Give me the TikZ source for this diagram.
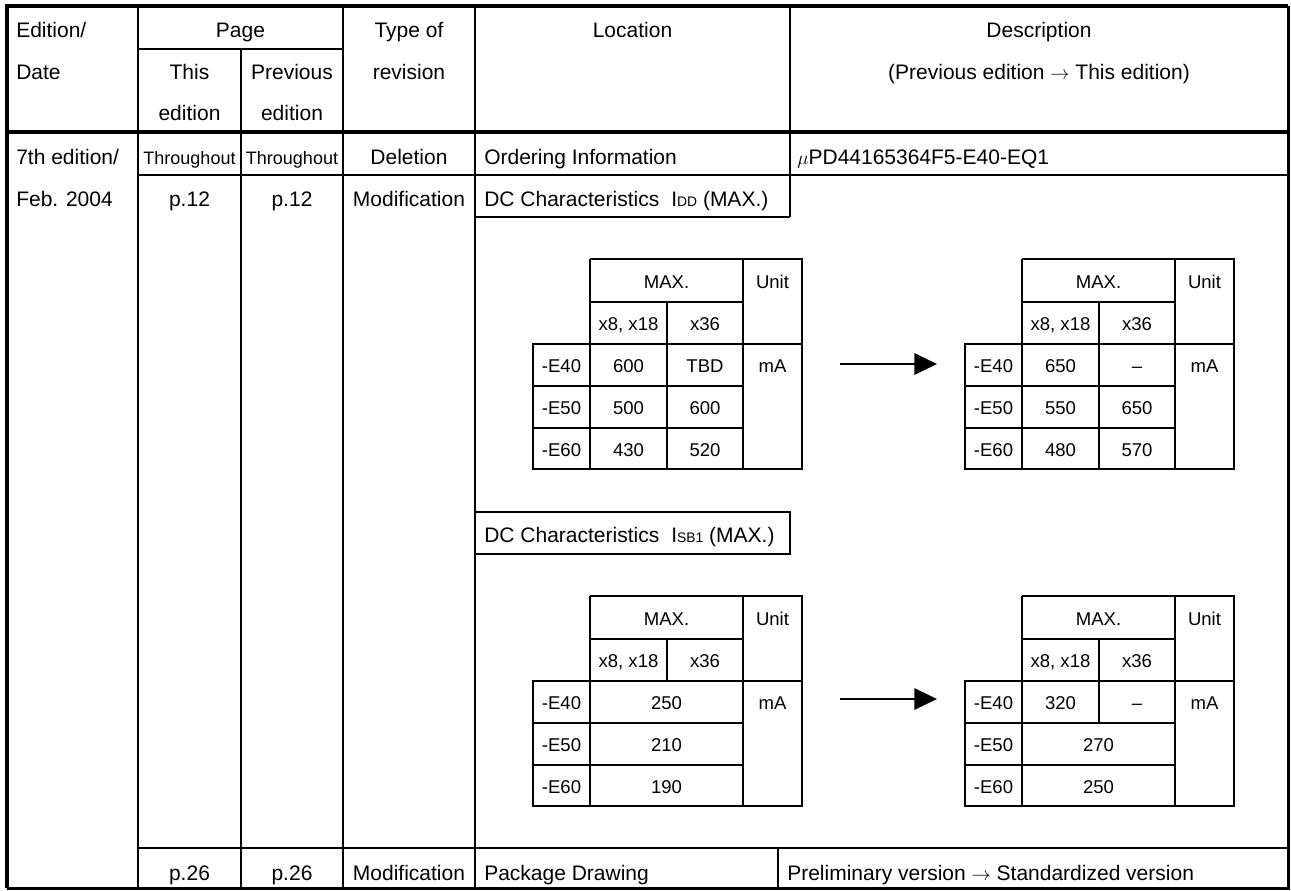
\documentclass[tikz,border=0pt]{standalone}
\usepackage{fontspec}
\setmainfont{Liberation Sans}
\usetikzlibrary{arrows.meta}

\begin{document}
\begin{tikzpicture}[x=0.75pt,y=-0.75pt,
    rule/.style={line width=1.6pt},
    heavy/.style={line width=3pt},
    txt/.style={inner sep=0pt,anchor=base,font=\fontsize{15.75}{18}\selectfont},
    ltxt/.style={txt,anchor=base west},
    thru/.style={txt,font=\fontsize{13.5}{16}\selectfont},
    cell/.style={txt,font=\fontsize{13.9}{16}\selectfont},
    chg/.style={line width=1.6pt,-{Triangle[length=17pt,width=16pt]}}]
    \useasboundingbox (0,0) rectangle (1291,890);

    % Outer frame
    \draw[heavy] (7,888) -- (7,6) -- (1288,6);
    \draw[line width=2.25pt] (1288,6) -- (1288,888) -- (7,888);

    % Column rules
    \draw[rule] (138,6) -- (138,888);
    \draw[rule] (241,49) -- (241,888);
    \draw[rule] (343,6) -- (343,888);
    \draw[rule] (475,6) -- (475,888);
    \draw[rule] (790,6) -- (790,217);
    \draw[rule] (778,848) -- (778,888);

    % Row rules
    \draw[rule] (138,49) -- (343,49);
    \draw[heavy] (7,132) -- (1288,132);
    \draw[rule] (138,175) -- (1288,175);
    \draw[rule] (475,217) -- (790,217);
    \draw[rule] (475,512) -- (790,512) -- (790,554) -- (475,554);
    \draw[rule] (138,848) -- (1288,848);

    % Header
    \node[ltxt] (ed1) at (16,37.5) {Edition/};
    \node[ltxt] (ed2) at (16,79) {Date};
    \node[txt] (pg) at (240.5,37.5) {Page};
    \node[txt] (this1) at (189.5,79) {This};
    \node[txt] (this2) at (189.5,120) {edition};
    \node[txt] (prev1) at (292,79) {Previous};
    \node[txt] (prev2) at (292,120) {edition};
    \node[txt] (type1) at (409,37.5) {Type of};
    \node[txt] (type2) at (409,79) {revision};
    \node[txt] (loc) at (632.5,37.5) {Location};
    \node[txt] (desc1) at (1039,37.5) {Description};
    \node[txt] (desc2) at (1039,79) {(Previous edition $\rightarrow$ This edition)};

    % First entry
    \node[ltxt] (r1ed) at (16,164) {7th edition/};
    \node[thru] (r1this) at (189.5,164) {Throughout};
    \node[thru] (r1prev) at (292,164) {Throughout};
    \node[txt] (r1type) at (409,164) {Deletion};
    \node[ltxt] (r1loc) at (484,164) {Ordering Information};
    \node[ltxt] (r1desc) at (797,164) {$\mu$PD44165364F5-E40-EQ1};

    % Second entry
    \node[ltxt] (r2ed) at (16,206) {Feb. 2004};
    \node[txt] (r2this) at (189.5,206) {p.12};
    \node[txt] (r2prev) at (292,206) {p.12};
    \node[txt] (r2type) at (409,206) {Modification};
    \node[ltxt] (idd) at (484,206) {DC Characteristics\hspace{9pt}I{\fontsize{10.4}{12}\selectfont DD} (MAX.)};
    \node[ltxt] (isb) at (484,542) {DC Characteristics\hspace{9pt}I{\fontsize{10.4}{12}\selectfont SB1} (MAX.)};

    % Sub tables (old / new)
    \foreach \dx/\dy/\cut/\nm in {0/0/210/a, 432/0/210/b, 0/337/85/c, 432/337/127/d}{
      \begin{scope}[shift={(533+\dx,259+\dy)}]
        \draw[rule] (57,0) -- (269,0) -- (269,210) -- (0,210) -- (0,85) -- (269,85);
        \draw[rule] (57,0) -- (57,210);
        \draw[rule] (210,0) -- (210,210);
        \draw[rule] (57,43) -- (210,43);
        \draw[rule] (0,127) -- (210,127);
        \draw[rule] (0,169) -- (210,169);
        \draw[rule] (134,43) -- (134,\cut);
        \node[cell] (max-\nm) at (133.5,29) {MAX.};
        \node[cell] (unit-\nm) at (239.5,29) {Unit};
        \node[cell] (wa-\nm) at (95.5,71) {x8, x18};
        \node[cell] (wb-\nm) at (172,71) {x36};
        \node[cell] (e40-\nm) at (28.5,113) {-E40};
        \node[cell] (e50-\nm) at (28.5,155) {-E50};
        \node[cell] (e60-\nm) at (28.5,197) {-E60};
        \node[cell] (ma-\nm) at (239.5,113) {mA};
      \end{scope}
    }

    % IDD values
    \node[cell] (a40l) at (628.5,372) {600};
    \node[cell] (a40r) at (705,372) {TBD};
    \node[cell] (a50l) at (628.5,414) {500};
    \node[cell] (a50r) at (705,414) {600};
    \node[cell] (a60l) at (628.5,456) {430};
    \node[cell] (a60r) at (705,456) {520};
    \node[cell] (b40l) at (1060.5,372) {650};
    \node[cell] (b40r) at (1137,372) {--};
    \node[cell] (b50l) at (1060.5,414) {550};
    \node[cell] (b50r) at (1137,414) {650};
    \node[cell] (b60l) at (1060.5,456) {480};
    \node[cell] (b60r) at (1137,456) {570};

    % ISB1 values
    \node[cell] (c40) at (666.5,709) {250};
    \node[cell] (c50) at (666.5,751) {210};
    \node[cell] (c60) at (666.5,793) {190};
    \node[cell] (d40l) at (1060.5,709) {320};
    \node[cell] (d40r) at (1137,709) {--};
    \node[cell] (d50) at (1098.5,751) {270};
    \node[cell] (d60) at (1098.5,793) {250};

    % Change arrows
    \coordinate (arr1-s) at (840,364);
    \coordinate (arr1-e) at (937,364);
    \draw[chg] (arr1-s) -- (arr1-e);
    \coordinate (arr2-s) at (840,699);
    \coordinate (arr2-e) at (937,699);
    \draw[chg] (arr2-s) -- (arr2-e);

    % Last entry
    \node[txt] (r3this) at (189.5,880) {p.26};
    \node[txt] (r3prev) at (292,880) {p.26};
    \node[txt] (r3type) at (409,880) {Modification};
    \node[ltxt] (r3loc) at (484,880) {Package Drawing};
    \node[ltxt] (r3desc) at (787,880) {Preliminary version $\rightarrow$ Standardized version};
\end{tikzpicture}
\end{document}
